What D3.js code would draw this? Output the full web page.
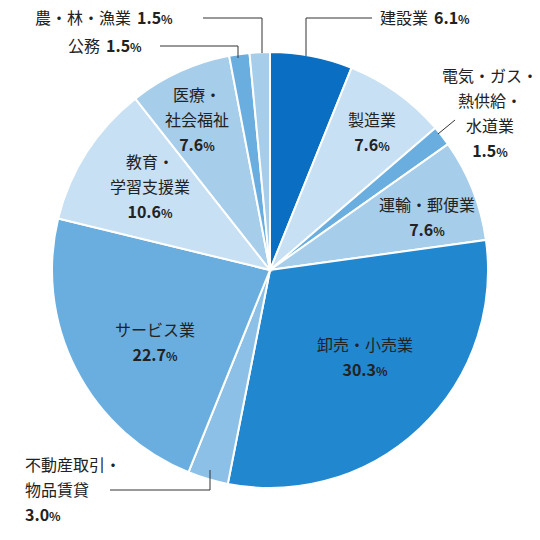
<!DOCTYPE html><html><head><meta charset="utf-8"><script src="https://cdn.jsdelivr.net/npm/d3@7"></script>
<style>body{margin:0;background:#fff}text{font-family:"Noto Sans CJK JP","Noto Sans",sans-serif;fill:#222}</style></head><body><svg id="c" width="540" height="540"></svg>
<script>
const categories=["建設業","製造業","電気・ガス・熱供給・水道業","運輸・郵便業","卸売・小売業","不動産取引・物品賃貸","サービス業","教育・学習支援業","医療・社会福祉","公務","農・林・漁業"];
const values=[6.1,7.6,1.5,7.6,30.3,3.0,22.7,10.6,7.6,1.5,1.5];
const colors=["#0a6fc2","#c8e0f3","#6aaee0","#a6cdea","#2187cf","#8dc0e6","#6aaee0","#c8e0f3","#a6cdea","#6aaee0","#a6cdea"];
const svg=d3.select("#c"),cx=270,cy=270,R=218;
const pie=d3.pie().sort(null).value(d=>d)(values);
const arc=d3.arc().innerRadius(0).outerRadius(R);
svg.append("g").attr("transform",`translate(${cx},${cy})`).selectAll("path").data(pie).join("path")
 .attr("d",arc).attr("fill",(d,i)=>colors[i]).attr("stroke","#fff").attr("stroke-width",2);
// labels: lines, x, y, anchor
const labels=[
 {l:["建設業"],p:true,x:380,y:24,a:"start",inline:true},
 {l:["製造業"],x:372,y:126,a:"middle"},
 {l:["電気・ガス・","熱供給・","水道業"],x:490,y:82,a:"middle",pr:true},
 {l:["運輸・郵便業"],x:427,y:211,a:"middle"},
 {l:["卸売・小売業"],x:365,y:351,a:"middle"},
 {l:["不動産取引・","物品賃貸"],x:25,y:471,a:"start"},
 {l:["サービス業"],x:155,y:336,a:"middle"},
 {l:["教育・","学習支援業"],x:150,y:168,a:"middle"},
 {l:["医療・","社会福祉"],x:197,y:101,a:"middle"},
 {l:["公務"],x:68,y:52,a:"start",inline:true},
 {l:["農・林・漁業"],x:35,y:24,a:"start",inline:true}
];
labels.forEach((o,i)=>{
 const t=svg.append("text").attr("text-anchor",o.a).attr("font-size",16);
 o.l.forEach((s,j)=>{
  const ts=t.append("tspan").attr("x",o.x).attr("y",o.y+j*25).text(s);
  if(o.inline&&j===o.l.length-1){t.append("tspan").attr("dx",6).attr("font-weight","bold").text(values[i].toFixed(1));t.append("tspan").attr("font-size",12).attr("font-weight","bold").text("%");}
 });
 if(!o.inline){
  const p=t.append("tspan").attr("x",o.x).attr("y",o.y+o.l.length*25).attr("font-weight","bold").text(values[i].toFixed(1));
  t.append("tspan").attr("font-size",12).attr("font-weight","bold").text("%");
 }
});
const line=(pts)=>svg.append("polyline").attr("points",pts.map(p=>p.join(",")).join(" ")).attr("fill","none").attr("stroke","#333").attr("stroke-width",1);
line([[306,56],[306,18],[372,18]]);
line([[438,134],[455,120]]);
line([[210,470],[210,490],[110,490]]);
line([[160,46],[238,46],[238,58]]);
line([[203,18],[262,18],[262,53]]);
</script></body></html>
